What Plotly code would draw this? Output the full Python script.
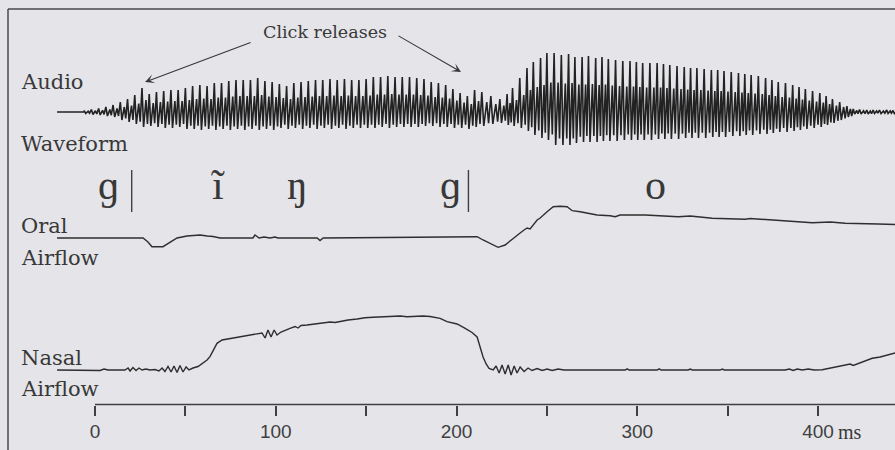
import plotly.graph_objects as go

# ---------------- data (time in ms, amplitudes in arbitrary units) ----------------
# glottal cycles of the audio waveform: onset time, positive peak, negative trough
cycle_ms = [-6, -2, 2, 6, 10, 14, 18, 22, 26, 30, 34, 38, 42, 46, 50, 54, 58, 62, 66, 70,
            74, 78, 82, 86, 90, 94, 98, 102, 106, 110, 114, 118, 122, 126, 130, 134, 138, 142, 146, 150,
            154, 158, 162, 166, 170, 174, 178, 182, 186, 190, 194, 198, 202, 206, 210,
            214, 219, 224, 228,
            231, 235, 239, 242.5, 246.5, 250, 254, 258, 262, 265.5, 269.5, 273, 277, 280.5, 284, 288,
            292, 296, 299.5, 303, 307, 311, 314.5, 318, 322, 326, 329.5, 333, 337, 341, 344.5, 348,
            352, 356, 359.5, 363, 367, 371, 374.5, 378, 382, 386, 389.5, 393, 397, 401, 404.5, 408,
            412, 416,
            419.5, 423, 427, 430.5, 434, 438, 441.5]
cycle_peak = [1.5, 2.5, 3.5, 5, 7, 10, 13, 17, 24, 18, 20, 21, 22, 22, 24, 26, 27, 26, 29, 29,
              31, 32, 32, 32, 34, 31, 30, 28, 26, 29, 30, 31, 32, 32, 33, 32, 33, 32, 32, 33,
              35, 35, 36, 35, 35, 35, 34, 33, 30, 29, 27, 23, 19, 16, 22,
              20, 16, 13, 18,
              24, 34, 44, 50, 54, 59, 59, 57, 58, 55, 55, 56, 54, 55, 53, 52, 51, 51, 50, 49,
              49, 49, 48, 47, 46, 45, 44, 44, 43, 42, 42, 41, 40, 39, 38, 37, 36, 34, 32, 30,
              29, 27, 25, 23, 21, 19, 16, 13, 10, 6,
              3, 2.5, 2, 2, 2, 2, 1.5]
cycle_trough = [-1.5, -2.5, -3, -4, -5, -8, -10, -12, -15, -14, -15, -16, -16, -15, -17, -17, -18, -17, -18, -17,
                -18, -17, -18, -17, -18, -17, -18, -16, -17, -16, -17, -16, -17, -16, -17, -16, -17, -16, -16, -16,
                -16, -15, -16, -15, -15, -15, -15, -14, -14, -15, -15, -16, -16, -17, -15,
                -14, -12, -11, -13,
                -14, -16, -19, -23, -26, -28, -33, -33, -33, -31, -30, -30, -30, -29, -29, -29, -28, -28, -28, -28,
                -28, -27, -27, -27, -27, -26, -26, -26, -26, -25, -25, -25, -24, -24, -23, -23, -22, -22, -21, -20,
                -20, -19, -18, -17, -16, -15, -13, -11, -8, -5,
                -2, -2, -2, -1.5, -1.5, -1.5, -1.5]
audio_start_ms = -21.0

oral_ms = [-21.0, 26.6, 29.3, 31.5, 37.6, 39.8, 45.4, 50.9, 54.2, 58.1, 62.0, 65.3, 69.2, 87.4, 88.5,
           90.8, 93.5, 96.8, 99.6, 101.3, 122.9, 124.5, 126.2, 190.9, 211.4, 214.7, 220.3, 223.0, 226.9,
           230.8, 235.2, 237.4, 239.1, 240.7, 241.8, 244.6, 246.3, 248.5, 250.1, 253.5, 257.3, 261.2, 264.0,
           268.4, 272.3, 277.8, 285.0, 287.8, 290.5, 304.4, 322.6, 329.3, 341.5, 359.7, 362.5, 378.0, 396.8,
           406.8, 415.0, 433.3, 442.7]
oral_flow = [0, 0, -4, -8.7, -8.7, -6.3, 0, 2, 2.5, 3, 2, 1.5, 0, 0, 3,
             0, 1, 0, 1, 0, 0, -2.5, 0, 1, 1.3, -2, -7, -9.3, -7,
             -1, 5, 8, 10, 9, 11.3, 18, 20, 24, 26.3, 31.3, 31.7, 31.3, 27.3,
             26.3, 24.7, 23, 22.3, 21.3, 23, 23, 21.3, 22, 19.7, 18.7, 19.5, 17.3, 15.3,
             16, 14.7, 14, 13.5]

nasal_ms = [-21.0, 2.8, 5.0, 7.2, 16.6, 18.3, 19.4, 21.0, 22.7, 24.3, 26.0, 28.2, 30.4, 33.2, 35.4,
            37.1, 38.7, 40.4, 42.1, 43.7, 45.4, 47.0, 48.7, 50.4, 52.0, 54.2, 57.0, 59.8, 62.0, 63.6,
            65.9, 67.5, 70.3, 74.7, 80.2, 85.8, 89.7, 92.4, 94.1, 95.7, 97.4, 99.1, 100.7, 102.9, 107.9,
            110.7, 112.3, 114.0, 117.3, 121.7, 126.2, 130.1, 132.8, 135.6, 140.0, 145.0, 149.4, 153.8, 160.5,
            166.0, 168.8, 172.7, 177.1, 181.5, 185.4, 190.9, 194.8, 200.3, 204.8, 208.6, 211.4, 213.1, 214.7,
            216.4, 218.0, 220.3, 221.9, 223.6, 225.2, 226.9, 228.6, 230.2, 231.9, 233.5, 235.2, 237.4, 239.6,
            241.8, 244.6, 247.4, 250.1, 252.9, 256.2, 259.5, 293.3, 294.4, 295.5, 311.0, 312.1, 313.2, 328.2,
            329.3, 330.4, 345.9, 347.0, 348.1, 381.8, 384.1, 386.3, 388.5, 391.3, 394.6, 397.9, 402.3, 407.9,
            415.0, 417.8, 419.5, 424.5, 430.0, 434.4, 442.7]
nasal_flow = [0, -0.5, 1, 0, 0, 2, -1, 2.5, -0.5, 2, 0, 1, 0, 0.5, -1,
              2, -1.5, 3.5, -2, 4, -2.5, 4.5, -2, 3, 0, 2, 3.5, 7, 10, 13.3,
              22, 26.7, 30, 31.5, 33.3, 35, 36.7, 37, 32, 40, 33, 40, 35, 38, 41.7,
              43.5, 42, 44.5, 45, 46, 46.5, 48, 47.5, 48.5, 50, 51, 52.3, 52.7, 53,
              53.3, 54, 53.3, 54, 54, 53.5, 51.7, 48.3, 46, 41.7, 37.5, 33, 23, 13,
              6, 1.5, 0, 4, -3, 5, -4, 5, -5, 4, -3, 3, -1.5, 2,
              -0.5, 1.5, -0.5, 1, -0.5, 1, 0, 0, 1.2, 0, 0, 1.2, 0, 0,
              1, 0, 0, 1, 0, 0, 1, -0.5, 1, 0, 1, 0, 0.3, 2.3,
              5, 6, 4.5, 8.3, 11.7, 13, 17]

tick_ms = [0, 50, 100, 150, 200, 250, 300, 350, 400]
tick_text = ["0", "", "100", "", "200", "", "300", "", "400"]

segment_labels = ["ɡ", "ĩ", "ŋ", "ɡ", "o"]
segment_ms = [7.7, 68.1, 112.3, 196.5, 309.9]
release_ms = [20.3, 206.6]

assert len(cycle_ms) == len(cycle_peak) == len(cycle_trough)
assert len(oral_ms) == len(oral_flow)
assert len(nasal_ms) == len(nasal_flow)

# ---------------- styling ----------------
W, H = 895, 450
BG = "#e4e4e9"
INK = "#2e2e2e"
TEXT = "#383838"
X_RANGE = [-52.56, 442.6]          # 0 ms sits 95 px in, 1.8075 px per ms


def py(row):
    """pixel row (from top) -> paper fraction"""
    return (H - row) / H


# each glottal cycle is drawn as a sharp pulse followed by a damped rebound
PULSE_PHASE = (0.0, 0.22, 0.55, 0.75)
PULSE_GAIN_UP = (1.0, 0.0, 0.5, 0.0)
PULSE_GAIN_DN = (0.0, 1.0, 0.0, 0.8)

audio_x = [audio_start_ms, cycle_ms[0]]
audio_y = [0.0, 0.0]
for k, t in enumerate(cycle_ms):
    period = (cycle_ms[k + 1] - t) if k + 1 < len(cycle_ms) else (t - cycle_ms[k - 1])
    for ph, gu, gd in zip(PULSE_PHASE, PULSE_GAIN_UP, PULSE_GAIN_DN):
        audio_x.append(t + ph * period)
        audio_y.append(gu * cycle_peak[k] + gd * cycle_trough[k])

fig = go.Figure()
fig.add_trace(go.Scatter(x=audio_x, y=audio_y, mode="lines", yaxis="y",
                         line=dict(color="#222222", width=1.6), hoverinfo="skip"))
fig.add_trace(go.Scatter(x=oral_ms, y=oral_flow, mode="lines", yaxis="y2",
                         line=dict(color=INK, width=1.4), hoverinfo="skip"))
fig.add_trace(go.Scatter(x=nasal_ms, y=nasal_flow, mode="lines", yaxis="y3",
                         line=dict(color=INK, width=1.4), hoverinfo="skip"))

annotations = []
serif = "DejaVu Serif"
for text, row in [("Audio", 89), ("Waveform", 151), ("Oral", 233), ("Airflow", 265),
                  ("Nasal", 365), ("Airflow", 396)]:
    annotations.append(dict(text=text, xref="paper", yref="paper", x=19 / W, y=py(row - 7.2),
                            xanchor="left", yanchor="middle", showarrow=False,
                            font=dict(family=serif, size=21, color=TEXT)))

annotations.append(dict(text="Click releases", xref="paper", yref="paper", x=325 / W, y=py(32.5),
                        xanchor="center", yanchor="middle", showarrow=False,
                        font=dict(family=serif, size=17.5, color=TEXT)))
# two arrows from the caption to the release bursts
for tip, tail in [((27.7, 30), (86.9, 70)), ((202.5, 40), (167.1, 77))]:
    annotations.append(dict(text="", x=tip[0], y=tip[1], xref="x", yref="y",
                            ax=tail[0], ay=tail[1], axref="x", ayref="y",
                            showarrow=True, arrowhead=3, arrowsize=1.4, arrowwidth=1.1,
                            arrowcolor=TEXT))

for lab, t in zip(segment_labels, segment_ms):
    annotations.append(dict(text=lab, xref="x", yref="paper", x=t, y=py(185),
                            xanchor="center", yanchor="middle", showarrow=False,
                            font=dict(family="Liberation Serif, DejaVu Serif", size=42, color=TEXT)))

annotations.append(dict(text="ms", xref="paper", yref="paper", x=836 / W, y=py(431.5),
                        xanchor="left", yanchor="middle", showarrow=False,
                        font=dict(family="Liberation Serif", size=20, color=TEXT)))

shapes = [
    # frame
    dict(type="line", xref="paper", yref="paper", x0=8 / W, x1=8 / W, y0=0, y1=py(9),
         line=dict(color="#4a4a4a", width=1.5)),
    dict(type="line", xref="paper", yref="paper", x0=8 / W, x1=1, y0=py(9), y1=py(9),
         line=dict(color="#4a4a4a", width=1.5)),
    # time axis line
    dict(type="line", xref="x", yref="paper", x0=0, x1=X_RANGE[1], y0=py(404.5), y1=py(404.5),
         line=dict(color="#404040", width=1.5)),
]
for t in release_ms:
    shapes.append(dict(type="line", xref="x", yref="paper", x0=t, x1=t, y0=py(212), y1=py(170),
                       line=dict(color="#404040", width=1.4)))

fig.update_layout(
    width=W, height=H, margin=dict(l=0, r=0, t=0, b=0),
    paper_bgcolor=BG, plot_bgcolor=BG, showlegend=False,
    xaxis=dict(domain=[0, 1], range=X_RANGE, anchor="free", position=py(404.5),
               showgrid=False, zeroline=False, showline=False,
               ticks="outside", ticklen=10, tickwidth=1.5, tickcolor="#404040",
               tickvals=tick_ms, ticktext=tick_text, fixedrange=True,
               tickfont=dict(family="Liberation Sans", size=19, color="#404040")),
    yaxis=dict(domain=[py(182), py(42)], range=[-70, 70], visible=False, fixedrange=True),
    yaxis2=dict(domain=[py(258), py(198)], range=[-20, 40], visible=False, fixedrange=True),
    yaxis3=dict(domain=[py(390), py(300)], range=[-20, 70], visible=False, fixedrange=True),
    annotations=annotations, shapes=shapes,
)

fig.write_html("out.html")
